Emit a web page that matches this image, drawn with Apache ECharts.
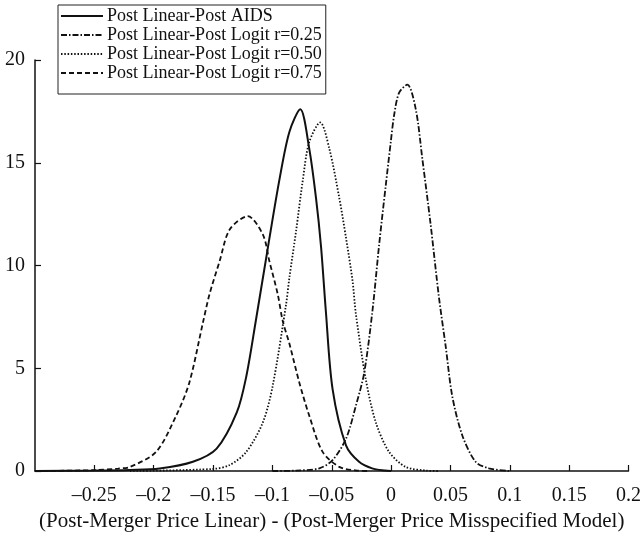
<!DOCTYPE html>
<html>
<head>
<meta charset="utf-8">
<script src="https://cdn.jsdelivr.net/npm/echarts@6/dist/echarts.min.js"></script>
<style>
  html, body { margin: 0; padding: 0; background: #fff; }
  #chart { width: 644px; height: 537px; }
</style>
</head>
<body>
<div id="chart"></div>
<script>
// series names (legend order)
const seriesNames = [
  'Post Linear-Post AIDS',
  'Post Linear-Post Logit r=0.25',
  'Post Linear-Post Logit r=0.50',
  'Post Linear-Post Logit r=0.75'
]

// Post Linear-Post AIDS
const aidsX = [-0.3, -0.25, -0.22, -0.195, -0.167, -0.147, -0.13, -0.122, -0.114, -0.104, -0.094, -0.0857, -0.0765, -0.069, -0.0633, -0.059, -0.055, -0.0493, -0.038, -0.027, -0.016, -0.005, 0.0]
const aidsY = [0, 0.02, 0.05, 0.12, 0.45, 1.09, 2.85, 4.6, 7.3, 10.8, 14.2, 16.5, 17.6, 15.7, 13.3, 10.9, 7.8, 3.98, 1.25, 0.45, 0.13, 0.02, 0]

// Post Linear-Post Logit r=0.25
const r25X = [-0.1, -0.08, -0.0605, -0.0493, -0.038, -0.0297, -0.0227, -0.0157, -0.0101, -0.0045, -0.0003, 0.0025, 0.0067, 0.0137, 0.0208, 0.0263, 0.0333, 0.0403, 0.046, 0.0515, 0.06, 0.0712, 0.0824, 0.1]
const r25Y = [0, 0.02, 0.13, 0.53, 1.57, 3.17, 4.77, 7.8, 11.0, 13.9, 16.0, 17.3, 18.4, 18.8, 17.6, 15.2, 12.0, 8.46, 6.06, 3.65, 1.73, 0.45, 0.13, 0]

// Post Linear-Post Logit r=0.50
const r50X = [-0.22, -0.15, -0.136, -0.122, -0.108, -0.0998, -0.0885, -0.0857, -0.08, -0.0745, -0.069, -0.0597, -0.0521, -0.0437, -0.038, -0.0325, -0.0297, -0.0213, -0.0129, -0.0017, 0.0123, 0.03, 0.04]
const r50Y = [0, 0.1, 0.29, 0.93, 2.37, 4.13, 8.1, 9.4, 11.7, 14.1, 16.0, 16.96, 15.7, 13.3, 11.35, 9.26, 7.66, 4.46, 2.37, 0.93, 0.2, 0.02, 0]

// Post Linear-Post Logit r=0.75
const r75X = [-0.3, -0.25, -0.23, -0.22, -0.198, -0.181, -0.17, -0.1586, -0.153, -0.1445, -0.136, -0.1208, -0.108, -0.1025, -0.0955, -0.0913, -0.0857, -0.0773, -0.069, -0.0577, -0.0437, -0.03, -0.02]
const r75Y = [0, 0.04, 0.12, 0.2, 0.93, 2.7, 4.3, 7.2, 8.6, 10.2, 11.75, 12.4, 11.5, 10.2, 8.6, 7.3, 6.2, 4.3, 2.7, 0.93, 0.2, 0.03, 0]

// axis ticks
const xMin = -0.3, xMax = 0.2, xStep = 0.05
const yMin = 0, yMax = 20, yStep = 5

const font = '"Liberation Serif", "DejaVu Serif", serif'

function pairs(xs, ys) {
  return xs.map((x, i) => [x, ys[i]])
}

const styles = [
  { type: 'solid', width: 2 },
  { type: [6, 2, 1.5, 2], width: 1.8 },
  { type: [1.5, 1.8], width: 1.8 },
  { type: [5, 3], width: 1.8 }
]
const datasets = [pairs(aidsX, aidsY), pairs(r25X, r25Y), pairs(r50X, r50Y), pairs(r75X, r75Y)]

const chart = echarts.init(document.getElementById('chart'), null, { renderer: 'canvas' })

chart.setOption({
  animation: false,
  backgroundColor: '#fff',
  textStyle: { fontFamily: font },
  grid: { left: 35, right: 13, top: 60, bottom: 61 },
  legend: {
    orient: 'vertical',
    left: 58,
    top: 5,
    itemWidth: 42,
    itemHeight: 10,
    itemGap: 1,
    padding: [2, 4, 12, 2],
    borderColor: '#222',
    borderWidth: 1,
    itemStyle: { color: 'transparent', borderColor: 'transparent', borderWidth: 0 },
    textStyle: { fontFamily: font, fontSize: 18, color: '#111', padding: [0, 0, 0, -1] },
    data: seriesNames
  },
  xAxis: {
    type: 'value',
    min: xMin,
    max: xMax,
    interval: xStep,
    name: '(Post-Merger Price Linear) - (Post-Merger Price Misspecified Model)',
    nameLocation: 'middle',
    nameGap: 40,
    nameTextStyle: { fontFamily: font, fontSize: 21, color: '#111' },
    axisLine: { onZero: false, lineStyle: { color: '#111', width: 1.5 } },
    axisTick: { inside: true, length: 6, lineStyle: { color: '#111', width: 1.2 } },
    splitLine: { show: false },
    axisLabel: {
      showMinLabel: false,
      margin: 15,
      fontFamily: font,
      fontSize: 20,
      color: '#111',
      formatter: v => {
        const r = Math.round(v * 100) / 100
        if (r === xMin) return ''
        return r < 0 ? '\u2013' + String(-r) : String(r)
      }
    }
  },
  yAxis: {
    type: 'value',
    min: yMin,
    max: yMax,
    interval: yStep,
    axisLine: { show: true, onZero: false, lineStyle: { color: '#111', width: 1.5 } },
    axisTick: { show: true, inside: true, length: 6, lineStyle: { color: '#111', width: 1.2 } },
    splitLine: { show: false },
    axisLabel: { margin: 10, fontFamily: font, fontSize: 20, color: '#111' }
  },
  series: datasets.map((d, i) => ({
    name: seriesNames[i],
    type: 'line',
    data: d,
    smooth: 0.3,
    symbol: 'none',
    lineStyle: { color: '#111', width: styles[i].width, type: styles[i].type },
    itemStyle: { color: '#111' }
  }))
})
</script>
</body>
</html>
